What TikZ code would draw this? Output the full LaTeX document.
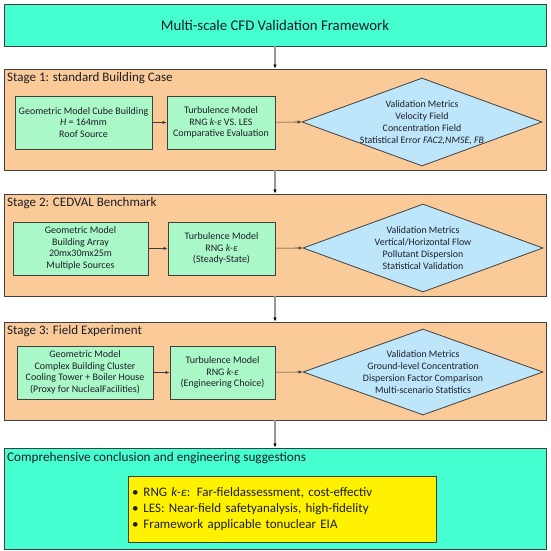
\documentclass[tikz,border=0pt]{standalone}
\usepackage{fontspec}
\setmainfont{Carlito}
\usetikzlibrary{arrows.meta,shapes.geometric}
\definecolor{topc}{RGB}{70,255,208}
\definecolor{stagec}{RGB}{250,202,152}
\definecolor{greenc}{RGB}{170,248,200}
\definecolor{bluec}{RGB}{190,230,250}
\definecolor{edgec}{RGB}{64,64,64}
\definecolor{txtc}{RGB}{30,30,40}
\definecolor{vlinec}{RGB}{150,150,150}
\tikzset{
  panel/.style={draw=edgec,line width=0.9pt,rectangle,inner sep=0pt,minimum width=542pt},
  stagebox/.style={panel,fill=stagec},
  cyanbox/.style={panel,fill=topc},
  stagelabel/.style={anchor=west,inner sep=0pt,font=\fontsize{13}{15}\selectfont,text=txtc},
  greenbox/.style={draw=edgec,line width=0.8pt,fill=greenc,rectangle,inner sep=0pt,minimum height=53pt,align=center,font=\fontsize{10}{11.5}\selectfont,text=txtc},
  dia/.style={draw=edgec,line width=0.8pt,fill=bluec,diamond,inner sep=0pt,minimum width=240pt,minimum height=88pt},
  diatext/.style={align=center,inner sep=0pt,font=\fontsize{9.9}{12}\selectfont,text=txtc},
  harrow/.style={draw=edgec,line width=0.6pt,-{Latex[length=4pt,width=3.5pt]}},
  varrow/.style={draw=vlinec,line width=1.2pt,-{Latex[length=4pt,width=3.5pt,color=black]}}
}
\begin{document}
\begin{tikzpicture}[x=1pt,y=-1pt]
\useasboundingbox (0,0) rectangle (550,551);
% title
\node[cyanbox,minimum height=42pt,font=\fontsize{14.8}{17}\selectfont,text=txtc] (title) at (275,25) {Multi-scale CFD Validation Framework};
% stage boxes
\node[stagebox,minimum height=101pt] (s1) at (275,119.5) {};
\node[stagebox,minimum height=102pt] (s2) at (275,245) {};
\node[stagebox,minimum height=98pt] (s3) at (275,371) {};
\node[cyanbox,minimum height=101pt] (fin) at (275,498.5) {};
% stage labels
\node[stagelabel] (l1) at (7,78) {Stage 1: standard Building Case};
\node[stagelabel] (l2) at (7,203) {Stage 2: CEDVAL Benchmark};
\node[stagelabel] (l3) at (7,331) {Stage 3: Field Experiment};
\node[stagelabel,font=\fontsize{13.2}{15}\selectfont] (l4) at (7,458) {Comprehensive conclusion and engineering suggestions};
% stage 1
\node[greenbox,minimum width=137pt] (g1) at (83.5,122.5) {Geometric Model Cube Building\\ \textit{H} = 164mm\\ Roof Source};
\node[greenbox,minimum width=108pt] (t1) at (221,122.5) {Turbulence Model\\ RNG \textit{k-ε} VS. LES\\ Comparative Evaluation};
\node[dia] (d1) at (422,122) {};
\node[diatext] (dt1) at (422,123) {Validation Metrics\\ Velocity Field\\ Concentration Field\\ Statistical Error \textit{FAC2,NMSE, FB}};
% stage 2
\node[greenbox,minimum width=135pt] (g2) at (80.5,248.5) {Geometric Model\\ Building Array\\ 20mx30mx25m\\ Multiple Sources};
\node[greenbox,minimum width=107pt] (t2) at (221.5,248.5) {Turbulence Model\\ RNG \textit{k-ε}\\ (Steady-State)};
\node[dia] (d2) at (423,248) {};
\node[diatext] (dt2) at (423,248) {Validation Metrics\\ Vertical/Horizontal Flow\\ Pollutant Dispersion\\ Statistical Validation};
% stage 3
\node[greenbox,minimum width=136pt] (g3) at (85,372.5) {Geometric Model\\ Complex Building Cluster\\ Cooling Tower + Boiler House\\ (Proxy for NuclealFacilities)};
\node[greenbox,minimum width=105pt] (t3) at (222.5,372.5) {Turbulence Model\\ RNG \textit{k-ε}\\ (Engineering Choice)};
\node[dia,minimum height=86pt] (d3) at (423,372) {};
\node[diatext] (dt3) at (423,372) {Validation Metrics\\ Ground-level Concentration\\ Dispersion Factor Comparison\\ Multi-scenario Statistics};
% conclusion
\node[draw=edgec,line width=0.8pt,fill=yellow,rectangle,minimum width=308pt,minimum height=66pt,inner sep=0pt,text width=300pt,align=left,font=\fontsize{13}{16}\selectfont,text=txtc] (y) at (282,509) {\makebox[11.5pt][l]{\textbullet}RNG \textit{k-ε}: Far-fieldassessment, cost-effectiv\\ \makebox[11.5pt][l]{\textbullet}LES: Near-field safetyanalysis, high-fidelity\\ \makebox[11.5pt][l]{\textbullet}Framework applicable tonuclear EIA};
% arrows
\draw[varrow] (title.south) -- (s1.north);
\draw[varrow] (s1.south) -- (s2.north);
\draw[varrow] (s2.south) -- (s3.north);
\draw[varrow] (s3.south) -- (fin.north);
\draw[harrow] (g1) -- (t1);
\draw[harrow] (t1) -- (d1.west);
\draw[harrow] (g2) -- (t2);
\draw[harrow] (t2) -- (d2.west);
\draw[harrow] (g3) -- (t3);
\draw[harrow] (t3) -- (d3.west);
\end{tikzpicture}
\end{document}
